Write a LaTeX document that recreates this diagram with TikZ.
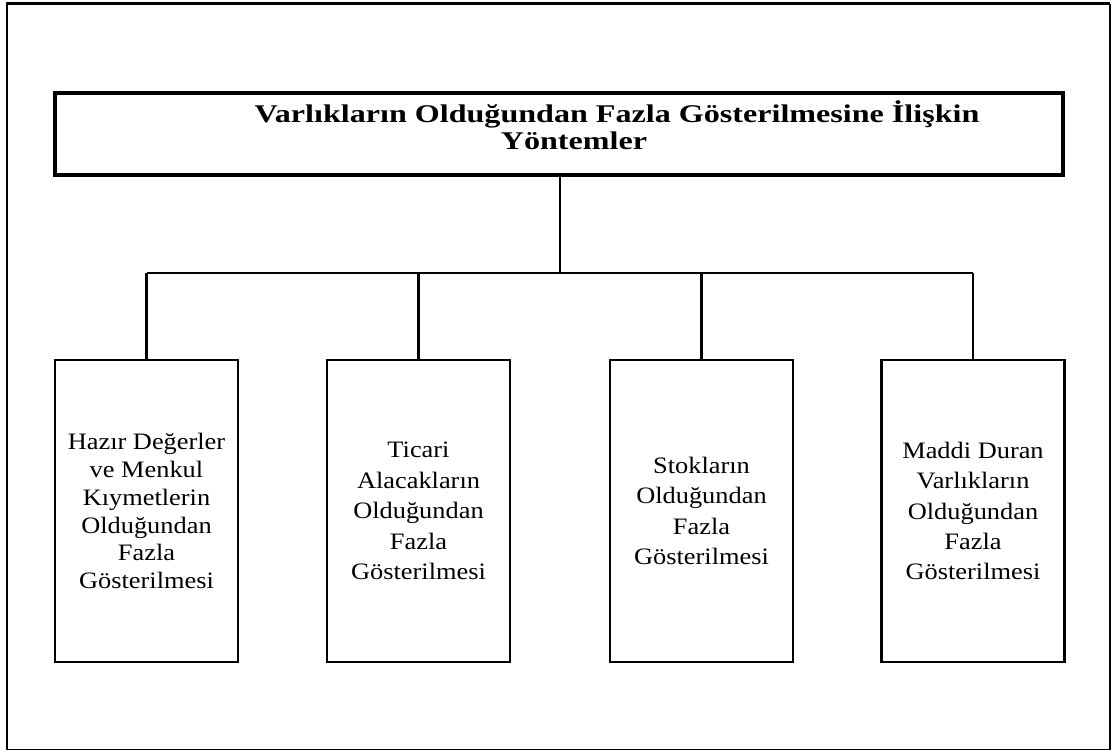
\documentclass[tikz,border=0pt]{standalone}
\usepackage{fontspec}
\setmainfont{Liberation Serif}[FakeStretch=1.12]
\newfontfamily\headfont{Liberation Serif}[FakeStretch=1.26]
\usepackage{tikz}
\usetikzlibrary{positioning}

\tikzset{
  titlebox/.style={draw, line width=2.2pt, minimum width=20.16cm, minimum height=1.64cm, inner sep=0pt},
  titletext/.style={align=center, inner sep=0pt, font=\headfont\fontsize{14.5}{15.4}\selectfont\bfseries},
  leafbox/.style={draw, line width=1.5pt, minimum width=3.66cm, minimum height=6.04cm, inner sep=0pt,
    align=center, font=\fontsize{13.4}{17.3}\selectfont},
  conn/.style={line width=1.2pt}
}

\begin{document}
\begin{tikzpicture}[x=0.02cm, y=-0.02cm]
\useasboundingbox (0,0) rectangle (1112,751);
% outer frame
\draw[line width=1.4pt] (1110,3.5) -- (7,3.5) -- (7,749.5);
\draw[line width=0.6pt] (7,749.5) -- (1110,749.5) -- (1110,3.5);

% top box
\node[titlebox] (title) at (559,134) {};
\node[titletext] (titlelbl) at (574,125)
  {\hspace*{1.72cm}Varlıkların Olduğundan Fazla Gösterilmesine İlişkin\\ Yöntemler};

% the four boxes below
\node[leafbox, font=\fontsize{13.4}{15.9}\selectfont] (hazir) at (146.5,511)
  {Hazır Değerler\\ ve Menkul\\ Kıymetlerin\\ Olduğundan\\ Fazla\\ Gösterilmesi};
\node[leafbox] (ticari) at (418.5,511)
  {Ticari\\ Alacakların\\ Olduğundan\\ Fazla\\ Gösterilmesi};
\node[leafbox] (stok) at (701.5,511)
  {Stokların\\ Olduğundan\\ Fazla\\ Gösterilmesi};
\node[leafbox] (maddi) at (973,511)
  {Maddi Duran\\ Varlıkların\\ Olduğundan\\ Fazla\\ Gösterilmesi};

% tree lines
\coordinate (bus) at (560,273);
\draw[conn] (title.south -| bus) -- (bus);
\draw[conn] (hazir.north |- bus) -- (maddi.north |- bus);
\foreach \n in {hazir,ticari,stok,maddi} {
    \draw[conn] (\n.north |- bus) -- (\n.north);
}
\end{tikzpicture}
\end{document}
